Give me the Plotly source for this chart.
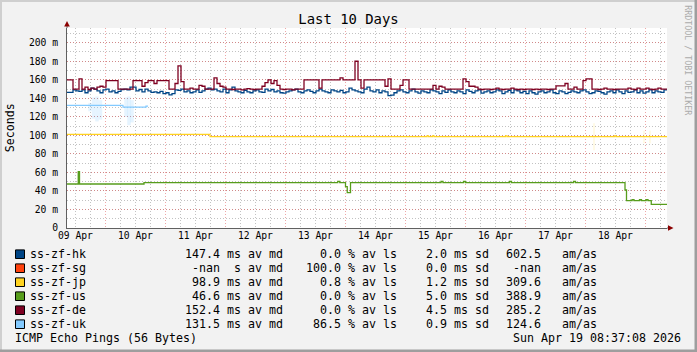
import plotly.graph_objects as go
from datetime import datetime, timedelta

# ---------------- data ----------------
START = datetime(2026, 4, 9, 8, 37, 8)
END = datetime(2026, 4, 19, 8, 37, 8)
STEP_MIN = 72  # resolution of the hk / de series

series_names = ["ss-zf-hk", "ss-zf-sg", "ss-zf-jp", "ss-zf-us", "ss-zf-de", "ss-zf-uk"]
series_colors = ["#004586", "#ff420e", "#ffd320", "#579d1c", "#7e0021", "#83caff"]

# median RTT in ms, one value per 72 min
hk_ms = [
    146.5, 146.5, 149, 148, 147.5, 149, 146, 148, 151, 150,
    148, 146, 149, 150, 147, 148, 146, 147.5, 149.5, 150,
    149, 152, 152, 148, 149.5, 147, 150, 148, 146.5, 147,
    146, 147.5, 145, 146, 143.8, 145, 149, 148.5, 150, 147,
    148, 146, 147, 149, 146.5, 148, 150, 151, 149, 150,
    148, 147, 150, 146, 149, 152, 148, 147, 146, 148.5,
    147, 146, 148, 149, 147, 146.5, 150, 148, 149.5, 147,
    148, 146, 145.5, 147, 148, 149, 150, 147, 146, 148,
    149, 147.5, 146, 148, 150, 148, 147, 146, 149, 148,
    147, 148.5, 146, 147, 151, 149, 148, 147, 146, 150,
    152, 148, 147, 149, 146, 148, 147, 143, 143.5, 146,
    148, 149, 147, 146, 148, 150, 147, 145.5, 148, 147,
    146, 149, 148, 147, 145, 148, 146.5, 149, 147, 146,
    148, 147, 145, 149, 147.5, 146, 148, 149, 145.5, 147,
    148, 146, 147, 149, 148, 145, 147, 148.5, 146, 149,
    148, 146, 147.5, 145, 148, 146, 144.5, 147, 148, 146,
    147, 149, 146, 145, 148, 147, 145, 146.5, 148, 147,
    146, 148, 149, 147, 145, 146, 148, 147.5, 146, 144.5,
    147, 148, 146, 149, 147, 145, 148, 146.5, 147, 149,
    146, 148, 145.5, 147, 149, 146, 148, 147, 146.5, 149,
]

de_ms = [
    160, 160, 150, 150, 161, 150, 152, 149.5, 151, 150,
    152, 153, 152, 159, 159, 159, 159, 150, 150, 150,
    150, 150, 159, 159, 159, 153, 157, 159, 159, 156,
    159, 159, 159, 159, 150, 150, 156, 175, 158, 150,
    150, 151, 150, 150, 154, 153, 150, 150, 150, 162,
    156, 153, 152, 150, 150, 149.5, 150, 150, 149, 150,
    150.5, 150, 149.5, 150, 150, 153, 157, 160, 156, 159,
    154, 150, 149.5, 150, 150, 149, 150, 150, 150, 160,
    160, 160, 160, 160, 151, 160, 160, 160, 160, 160,
    160, 162, 160, 160, 160, 160, 180, 160, 151, 160,
    160, 160, 160, 160, 160, 160, 153, 161, 150, 150,
    150, 154, 160, 160, 150, 150, 150, 150, 150, 150,
    150, 150, 154, 150, 153, 152, 150, 150, 150, 150,
    150, 150, 161, 158, 153, 153, 152, 150, 149.5, 150,
    150, 149.5, 150, 151, 150, 149.5, 150, 150, 151, 150,
    149.5, 150, 149.5, 150, 150, 149.5, 150, 149.5, 150, 150,
    149.5, 150, 150, 153.5, 153.5, 153.5, 156, 150, 150, 152,
    150, 150, 159, 161, 161, 150, 150, 149.5, 150, 151,
    150, 150, 149.5, 150, 150, 150, 150, 151, 150, 149.5,
    151, 150, 150, 151, 150, 149.5, 150, 151, 150, 150,
]

# change-point series: hours after START and value (ms)
jp_hours = [0, 57.2, 144.0, 144.6, 146.2, 146.8, 175.4, 176.0, 219.0, 219.6]
jp_ms = [101.1, 98.6, 99.6, 98.6, 99.6, 98.6, 99.6, 98.6, 99.6, 98.6]

us_hours = [0, 4.5, 5.0, 30.8, 108.3, 109.1, 111.4, 112.1, 113.4,
            149.6, 150.4, 158.6, 159.4, 177.0, 177.8, 202.6, 203.4,
            223.2, 223.8, 226.0, 226.8, 229.0, 229.8, 231.6, 232.4, 233.7]
us_ms = [47.5, 60.8, 47.5, 48.9, 50.4, 48.9, 44.6, 38.1, 48.9,
         50.2, 48.9, 50.2, 48.9, 50.2, 48.9, 50.2, 48.9,
         41.0, 29.5, 30.5, 29.5, 30.5, 29.5, 30.5, 29.5, 25.6]

uk_hours = [0, 22.4, 31.6, 32.4]
uk_ms = [132.4, 130.4, 131.6, 131.6]

# light deviation bands (start hour, low, high in ms)
uk_band_hours = [8.5, 9.9, 11.3, 12.7, 22.9, 24.1, 25.3]
uk_band_low = [126, 118, 115, 117, 120, 111, 114]
uk_band_high = [135, 141, 142, 138, 141, 142, 138]

jp_band_hours = [210.6, 230.6, 233.0]
jp_band_low = [84, 91.4, 91.4]
jp_band_high = [113, 105, 105]

day_labels = ["09 Apr", "10 Apr", "11 Apr", "12 Apr", "13 Apr",
              "14 Apr", "15 Apr", "16 Apr", "17 Apr", "18 Apr"]
ytick_vals = [0, 20, 40, 60, 80, 100, 120, 140, 160, 180, 200]
ytick_text = ["0"] + [f"{v} m" for v in ytick_vals[1:]]

leg_med = ["147.4", "-nan", "98.9", "46.6", "152.4", "131.5"]
leg_unit = ["ms", " s", "ms", "ms", "ms", "ms"]
leg_loss = ["0.0", "100.0", "0.8", "0.0", "0.0", "86.5"]
leg_sd = ["2.0", "0.0", "1.2", "5.0", "4.5", "0.9"]
leg_amas = ["602.5", "-nan", "309.6", "388.9", "285.2", "124.6"]
footer_left = "ICMP Echo Pings (56 Bytes)"
footer_right = "Sun Apr 19 08:37:08 2026"
title_text = "Last 10 Days"

# ---------------- layout geometry ----------------
W, H = 697, 352
L, R, T, B = 67, 30, 28, 124
PW, PH = W - L - R, H - T - B
Y_MAX = 215.9
MONO = "DejaVu Sans Mono"
NB = "\u00a0"


def xp(px):
    return (px - L) / PW


def yp(py):
    return (T + PH - py) / PH


def hours_to_times(hs):
    return [START + timedelta(hours=h) for h in hs]


def grid_times(n):
    return [START + timedelta(minutes=STEP_MIN * i) for i in range(n)]


fig = go.Figure()

# deviation bands
fig.add_trace(go.Bar(
    x=hours_to_times(uk_band_hours),
    y=[h - l for h, l in zip(uk_band_high, uk_band_low)],
    base=uk_band_low, width=[1.4 * 3600e3] * len(uk_band_hours), offset=0,
    marker=dict(color="rgba(131,202,255,0.20)", line=dict(width=0)),
    hoverinfo="skip", showlegend=False))
fig.add_trace(go.Bar(
    x=hours_to_times(jp_band_hours),
    y=[h - l for h, l in zip(jp_band_high, jp_band_low)],
    base=jp_band_low, width=[0.4 * 3600e3] * len(jp_band_hours), offset=0,
    marker=dict(color="rgba(255,211,32,0.22)", line=dict(width=0)),
    hoverinfo="skip", showlegend=False))

# lines, drawn in legend order
hk_x = grid_times(len(hk_ms)) + [END]
fig.add_trace(go.Scatter(x=hk_x, y=hk_ms + [hk_ms[-1]], mode="lines",
                         line=dict(color=series_colors[0], width=1.3, shape="hv"),
                         hoverinfo="skip", showlegend=False))
fig.add_trace(go.Scatter(x=hk_x, y=[None] * len(hk_x), mode="lines",
                         line=dict(color=series_colors[1], width=1.3, shape="hv"),
                         hoverinfo="skip", showlegend=False))
fig.add_trace(go.Scatter(x=hours_to_times(jp_hours) + [END], y=jp_ms + [jp_ms[-1]], mode="lines",
                         line=dict(color=series_colors[2], width=1.2, shape="hv"),
                         hoverinfo="skip", showlegend=False))
fig.add_trace(go.Scatter(x=hours_to_times(us_hours) + [END], y=us_ms + [us_ms[-1]], mode="lines",
                         line=dict(color=series_colors[3], width=1.3, shape="hv"),
                         hoverinfo="skip", showlegend=False))
de_x = grid_times(len(de_ms)) + [END]
fig.add_trace(go.Scatter(x=de_x, y=de_ms + [de_ms[-1]], mode="lines",
                         line=dict(color=series_colors[4], width=1.3, shape="hv"),
                         hoverinfo="skip", showlegend=False))
fig.add_trace(go.Scatter(x=hours_to_times(uk_hours), y=uk_ms, mode="lines",
                         line=dict(color=series_colors[5], width=1.2, shape="hv"),
                         hoverinfo="skip", showlegend=False))

# day label axis (labels centred on noon)
noon = [datetime(2026, 4, 9, 12) + timedelta(days=k) for k in range(len(day_labels))]
fig.add_trace(go.Scatter(x=noon, y=[0] * len(noon), xaxis="x2", mode="markers",
                         marker=dict(opacity=0), hoverinfo="skip", showlegend=False))

grid_minor = "rgba(143,143,143,0.55)"
grid_major = "rgba(222,79,79,0.5)"
axis_col = "#606060"
dash = "1px,2px"

fig.update_layout(
    width=W, height=H, autosize=False,
    margin=dict(l=L, r=R, t=T, b=B, pad=0),
    paper_bgcolor="#f2f2f2", plot_bgcolor="#ffffff",
    barmode="overlay",
    font=dict(family=MONO, color="#000000"),
    title=dict(text=title_text, x=0.5, xanchor="center", xref="container",
               y=1 - 19.3 / H, yanchor="middle", yref="container",
               font=dict(family=MONO, size=13.9, color="#000000")),
    xaxis=dict(type="date", range=[START, END], tickmode="linear",
               tick0="2026-04-10 00:00:00", dtick=86400000,
               showticklabels=False, ticks="", showgrid=True,
               gridcolor=grid_major, griddash=dash, gridwidth=1,
               minor=dict(tickmode="linear", tick0="2026-04-10 00:00:00", dtick=21600000,
                          showgrid=True, gridcolor=grid_minor, griddash=dash, gridwidth=1),
               showline=True, linecolor=axis_col, linewidth=1,
               zeroline=False, automargin=False, fixedrange=True),
    xaxis2=dict(type="date", overlaying="x", anchor="y", side="bottom",
                range=[START, END], tickmode="array", tickvals=noon, ticktext=day_labels,
                showgrid=False, showline=False, ticks="", zeroline=False,
                tickfont=dict(family=MONO, size=9.7, color="#000000"),
                automargin=False, fixedrange=True),
    yaxis=dict(range=[0, Y_MAX], tickmode="array", tickvals=ytick_vals, ticktext=ytick_text,
               tickfont=dict(family=MONO, size=9.7, color="#000000"),
               ticks="", ticklabelstandoff=6, showgrid=True,
               gridcolor=grid_major, griddash=dash, gridwidth=1,
               minor=dict(tickmode="linear", tick0=0, dtick=10, showgrid=True,
                          gridcolor=grid_minor, griddash=dash, gridwidth=1),
               showline=True, linecolor=axis_col, linewidth=1,
               zeroline=False, automargin=False, fixedrange=True),
)

shapes = []
annos = []

# axis extensions and arrows
shapes.append(dict(type="line", xref="paper", yref="paper", x0=0, x1=0, y0=1, y1=yp(24),
                   line=dict(color=axis_col, width=1)))
shapes.append(dict(type="line", xref="paper", yref="paper", x0=1, x1=xp(670), y0=0, y1=0,
                   line=dict(color=axis_col, width=1)))
shapes.append(dict(type="path", xref="paper", yref="paper",
                   path=f"M {xp(L)},{yp(21.0)} L {xp(L - 2.8)},{yp(26.5)} L {xp(L + 2.8)},{yp(26.5)} Z",
                   fillcolor="#8b0000", line=dict(width=0)))
shapes.append(dict(type="path", xref="paper", yref="paper",
                   path=f"M {xp(673.5)},{yp(T + PH)} L {xp(668)},{yp(T + PH - 2.8)} L {xp(668)},{yp(T + PH + 2.8)} Z",
                   fillcolor="#8b0000", line=dict(width=0)))

# frame bevel
shapes.append(dict(type="rect", xref="paper", yref="paper", x0=xp(0), x1=xp(W), y0=yp(0), y1=yp(2),
                   fillcolor="#cfcfcf", line=dict(width=0)))
shapes.append(dict(type="rect", xref="paper", yref="paper", x0=xp(0), x1=xp(2), y0=yp(0), y1=yp(H),
                   fillcolor="#cfcfcf", line=dict(width=0)))
shapes.append(dict(type="rect", xref="paper", yref="paper", x0=xp(0), x1=xp(W), y0=yp(H - 2.5), y1=yp(H),
                   fillcolor="#9e9e9e", line=dict(width=0)))
shapes.append(dict(type="rect", xref="paper", yref="paper", x0=xp(W - 2.5), x1=xp(W), y0=yp(0), y1=yp(H),
                   fillcolor="#9e9e9e", line=dict(width=0)))

# legend rows
LEG_FS = 11.63
row0, row_dy = 254.2, 14.0


def txt(s, x, y, anchor="left", size=LEG_FS, color="#000000", angle=0):
    annos.append(dict(text=s.replace(" ", NB), x=xp(x), y=yp(y), xref="paper", yref="paper",
                      xanchor=anchor, yanchor="middle", showarrow=False, textangle=angle,
                      borderpad=0, borderwidth=0,
                      font=dict(family=MONO, size=size, color=color)))


for k, name in enumerate(series_names):
    cy = row0 + row_dy * k
    shapes.append(dict(type="rect", xref="paper", yref="paper",
                       x0=xp(15.5), x1=xp(24.5), y0=yp(cy + 4.3), y1=yp(cy - 4.3),
                       fillcolor=series_colors[k], line=dict(color="#000000", width=1)))
    txt(name, 30.0, cy)
    txt(f"{leg_med[k]:>5} {leg_unit[k]} av md", 184.5, cy)
    txt(f"{leg_loss[k]:>5} % av ls", 306.2, cy)
    txt(f"{leg_sd[k]:>5} ms sd", 412.3, cy)
    txt(f"{leg_amas[k]:>5}   am/as", 506.3, cy)

foot_y = row0 + row_dy * 6
txt(footer_left, 15.3, foot_y)
txt(footer_right, 680.5, foot_y, anchor="right")

# y axis title and watermark
txt("Seconds", 10.3, T + PH / 2, anchor="center", angle=-90)
txt("RRDTOOL / TOBI OETIKER", 687.7, 60, anchor="center", size=8.3, color="#ababab", angle=90)

fig.update_layout(shapes=shapes, annotations=annos)
fig.write_html("out.html")
